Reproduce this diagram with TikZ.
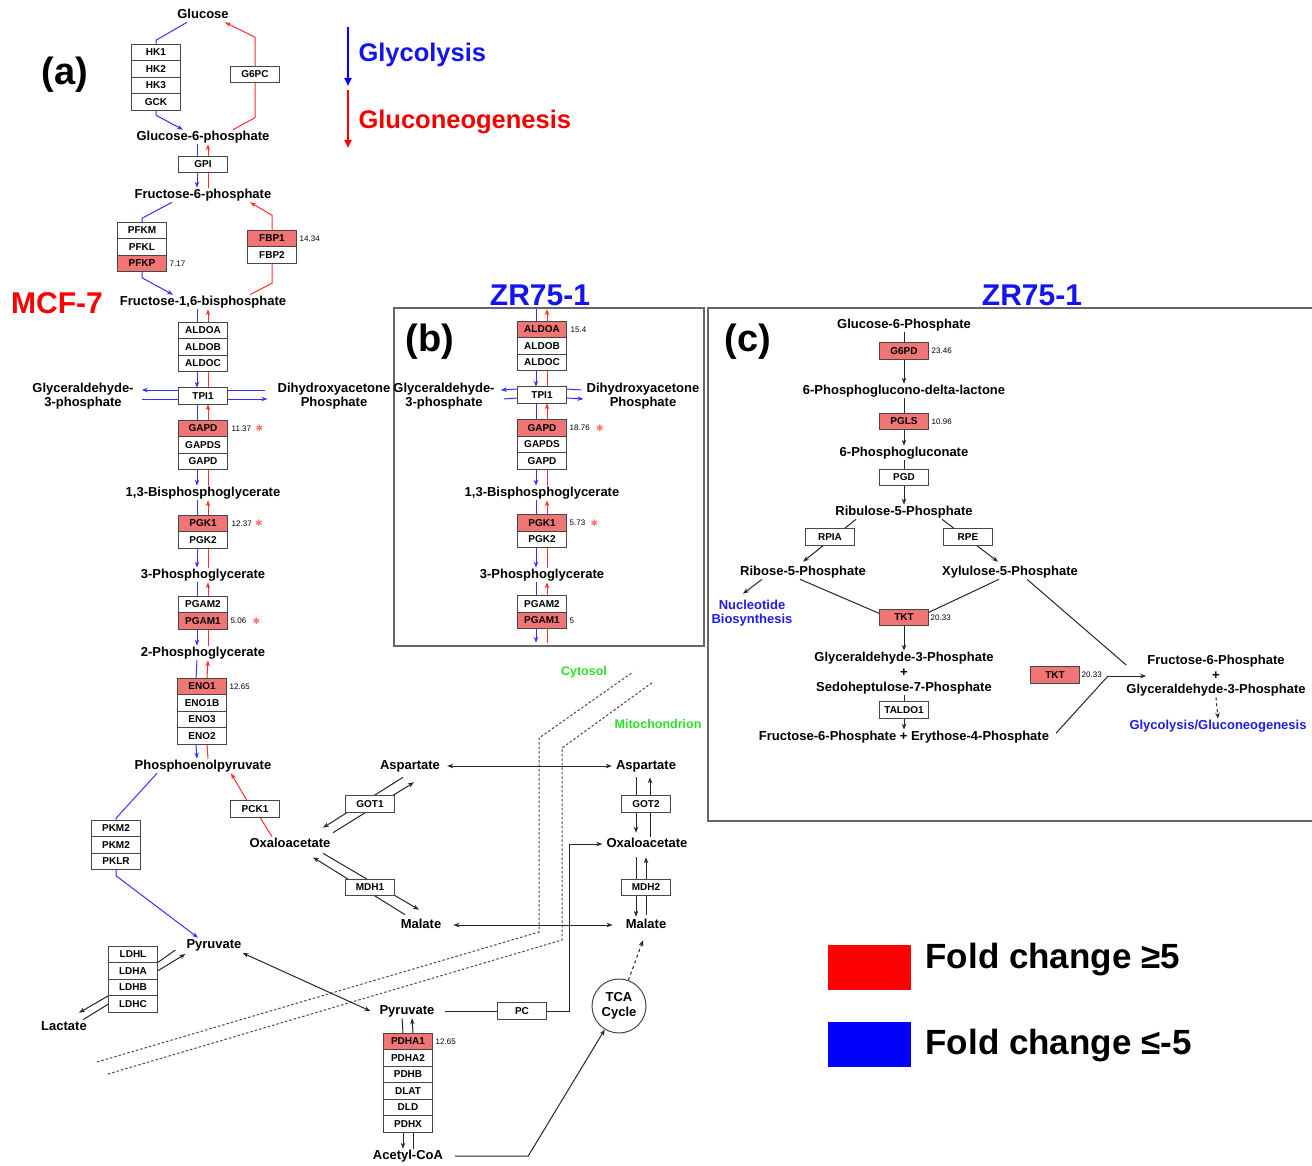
\documentclass[tikz,border=0pt]{standalone}
\usepackage{fontspec}
\setmainfont{Liberation Sans}
\newfontfamily\starfont{DejaVu Sans}
\usetikzlibrary{arrows.meta}
\usetikzlibrary{positioning}
\usetikzlibrary{backgrounds}

\definecolor{hitred}{RGB}{240,118,118}
\definecolor{glyblue}{RGB}{50,50,255}
\definecolor{gngred}{RGB}{255,45,45}
\definecolor{boxgray}{RGB}{70,70,70}
\definecolor{cmpgreen}{RGB}{40,225,40}
\definecolor{ptblue}{RGB}{30,30,230}
\definecolor{zrblue}{RGB}{20,20,240}

\tikzset{
  gene/.style={draw=boxgray, line width=1pt, fill=white, minimum width=49pt,
    minimum height=16.5pt, inner sep=0pt, outer sep=0pt,
    font=\fontsize{10}{10}\selectfont\bfseries},
  hit/.style={gene, fill=hitred},
  met/.style={inner sep=1pt, text height=9.5pt, text depth=2.7pt,
    font=\fontsize{13}{14}\selectfont\bfseries},
  met2/.style={inner sep=1pt, align=center, font=\fontsize{13}{14}\selectfont\bfseries},
  fc/.style={inner sep=0pt, font=\fontsize{8}{8}\selectfont},
  sig/.style={inner sep=0pt, text=red!55, font=\starfont\fontsize{9}{9}\selectfont},
  gly/.style={glyblue, line width=1pt},
  gng/.style={gngred, line width=1pt},
  rxn/.style={black!85, line width=1pt},
  membrane/.style={black!70, line width=1pt, dash pattern=on 2.5pt off 2pt},
  panel/.style={draw=black!60, line width=1.2pt},
  compart/.style={text=cmpgreen, font=\fontsize{12.5}{13}\selectfont\bfseries},
  tagfont/.style={font=\fontsize{38}{38}\selectfont\bfseries},
  cellline/.style={font=\fontsize{30}{30}\selectfont\bfseries},
  keybox/.style={minimum width=83pt, minimum height=45pt, inner sep=0pt},
  keytext/.style={anchor=west, font=\fontsize{35}{35}\selectfont\bfseries},
  pathlbl/.style={anchor=west, font=\fontsize{25.5}{26}\selectfont\bfseries},
}

\begin{document}
\begin{tikzpicture}[x=1pt,y=-1pt,>={Stealth[length=6pt,width=4.5pt]}]
\useasboundingbox (0,0) rectangle (1312,1166);

% ---------- panel labels
\node[tagfont] (taga) at (65,75) {(a)};
\node[tagfont] (tagb) at (430,342) {(b)};
\node[tagfont] (tagc) at (748,342) {(c)};
\node[cellline, text=red] (mcf) at (57,303) {MCF-7};
\node[cellline, text=zrblue] (zrb) at (540,295) {ZR75-1};
\node[cellline, text=zrblue] (zrc) at (1032,295) {ZR75-1};

% ---------- direction key
\coordinate (glyS) at (348,27);
\coordinate (glyE) at (348,86);
\coordinate (gngS) at (348,90);
\coordinate (gngE) at (348,148);
\node[pathlbl, text=zrblue] (glylbl) at (355,55) {Glycolysis};
\node[pathlbl, text=red!95!black] (gnglbl) at (355,122) {Gluconeogenesis};
\draw[blue, line width=2pt, -{Triangle[length=8pt,width=7pt]}] (glyS) -- (glyE);
\draw[red, line width=2pt, -{Triangle[length=8pt,width=7pt]}] (gngS) -- (gngE);

% ---------- (a) glycolysis, MCF-7
\node[met] (glc) at (203,15) {Glucose};
\node[gene] (hk1) at (156,52.5) {HK1};
\node[gene, below=0pt of hk1] (hk2) {HK2};
\node[gene, below=0pt of hk2] (hk3) {HK3};
\node[gene, below=0pt of hk3] (gck) {GCK};
\node[gene] (g6pc) at (255,74.5) {G6PC};
\node[met] (g6p) at (203,137) {Glucose-6-phosphate};
\node[gene] (gpi) at (203,164.5) {GPI};
\node[met] (f6p) at (203,195) {Fructose-6-phosphate};
\node[gene] (pfkm) at (142,230.5) {PFKM};
\node[gene, below=0pt of pfkm] (pfkl) {PFKL};
\node[hit, below=0pt of pfkl] (pfkp) {PFKP};
\node[fc, right=3pt of pfkp] (pfkpfc) {7.17};
\node[hit] (fbp1) at (272,238.5) {FBP1};
\node[gene, below=0pt of fbp1] (fbp2) {FBP2};
\node[fc, right=3pt of fbp1] (fbp1fc) {14.34};
\node[met] (fbp) at (203,302) {Fructose-1,6-bisphosphate};
\node[gene] (aldoa) at (203,330.5) {ALDOA};
\node[gene, below=0pt of aldoa] (aldob) {ALDOB};
\node[gene, below=0pt of aldob] (aldoc) {ALDOC};
\node[gene] (tpi) at (203,396) {TPI1};
\node[met2] (gap) at (83,396) {Glyceraldehyde-\\3-phosphate};
\node[met2] (dhap) at (334,396) {Dihydroxyacetone\\Phosphate};
\node[hit] (gapd) at (203,428.5) {GAPD};
\node[gene, below=0pt of gapd] (gapds) {GAPDS};
\node[gene, below=0pt of gapds] (gapdb) {GAPD};
\node[fc, right=4pt of gapd] (gapdfc) {11.37};
\node[sig, right=4pt of gapdfc] (gapdsig) {✱};
\node[met] (bpg) at (203,493) {1,3-Bisphosphoglycerate};
\node[hit] (pgk1) at (203,523.5) {PGK1};
\node[gene, below=0pt of pgk1] (pgk2) {PGK2};
\node[fc, right=4pt of pgk1] (pgk1fc) {12.37};
\node[sig, right=3pt of pgk1fc] (pgk1sig) {✱};
\node[met] (pg3) at (203,575) {3-Phosphoglycerate};
\node[gene] (pgam2) at (203,604.5) {PGAM2};
\node[hit, below=0pt of pgam2] (pgam1) {PGAM1};
\node[fc, right=3pt of pgam1] (pgam1fc) {5.06};
\node[sig, right=6pt of pgam1fc] (pgam1sig) {✱};
\node[met] (pg2) at (203,653) {2-Phosphoglycerate};
\node[hit] (eno1) at (202,686.5) {ENO1};
\node[gene, below=0pt of eno1] (eno1b) {ENO1B};
\node[gene, below=0pt of eno1b] (eno3) {ENO3};
\node[gene, below=0pt of eno3] (eno2) {ENO2};
\node[fc, right=3pt of eno1] (eno1fc) {12.65};
\node[met] (pep) at (203,766) {Phosphoenolpyruvate};
\node[gene] (pkm2a) at (116,828.5) {PKM2};
\node[gene, below=0pt of pkm2a] (pkm2b) {PKM2};
\node[gene, below=0pt of pkm2b] (pklr) {PKLR};
\node[gene] (pck1) at (255,809) {PCK1};
\node[met] (oaac) at (290,844) {Oxaloacetate};
\node[met] (pyrc) at (214,945) {Pyruvate};
\node[gene] (ldhl) at (133,954.5) {LDHL};
\node[gene, below=0pt of ldhl] (ldha) {LDHA};
\node[gene, below=0pt of ldha] (ldhb) {LDHB};
\node[gene, below=0pt of ldhb] (ldhc) {LDHC};
\node[met] (lac) at (64,1027) {Lactate};

% ---------- (a) shuttle and mitochondrion
\node[met] (aspc) at (410,766) {Aspartate};
\node[met] (aspm) at (646,766) {Aspartate};
\node[gene] (got1) at (370,804) {GOT1};
\node[gene] (got2) at (646,804) {GOT2};
\node[met] (oaam) at (647,844) {Oxaloacetate};
\node[gene] (mdh1) at (370,887.5) {MDH1};
\node[gene] (mdh2) at (646,887.5) {MDH2};
\node[met] (malc) at (421,925) {Malate};
\node[met] (malm) at (646,925) {Malate};
\node[met] (pyrm) at (407,1011) {Pyruvate};
\node[gene] (pc) at (522,1011) {PC};
\node[hit] (pdha1) at (408,1041.5) {PDHA1};
\node[gene, below=0pt of pdha1] (pdha2) {PDHA2};
\node[gene, below=0pt of pdha2] (pdhb) {PDHB};
\node[gene, below=0pt of pdhb] (dlat) {DLAT};
\node[gene, below=0pt of dlat] (dld) {DLD};
\node[gene, below=0pt of dld] (pdhx) {PDHX};
\node[fc, right=3pt of pdha1] (pdha1fc) {12.65};
\node[met] (accoa) at (408,1156) {Acetyl-CoA};
\node[draw=boxgray, line width=1pt, circle, fill=white, minimum size=54pt,
  inner sep=0pt, align=center, font=\fontsize{13}{15}\selectfont\bfseries] (tca) at (619,1006) {TCA\\Cycle};
\node[compart] (cyto) at (584,672) {Cytosol};
\node[compart] (mito) at (658,724) {Mitochondrion};

% ---------- (b) ZR75-1 glycolysis
\draw[panel] (394,308) rectangle (704,646);
\node[inner sep=0pt, minimum size=0pt] (btop) at (542,309) {};
\node[inner sep=0pt, minimum size=0pt] (bbot) at (542,643) {};
\node[hit] (baldoa) at (542,329.5) {ALDOA};
\node[gene, below=0pt of baldoa] (baldob) {ALDOB};
\node[gene, below=0pt of baldob] (baldoc) {ALDOC};
\node[fc, right=4pt of baldoa] (baldoafc) {15.4};
\node[gene] (btpi) at (542,395) {TPI1};
\node[met2] (bgap) at (444,396) {Glyceraldehyde-\\3-phosphate};
\node[met2] (bdhap) at (643,396) {Dihydroxyacetone\\Phosphate};
\node[hit] (bgapd) at (542,428) {GAPD};
\node[gene, below=0pt of bgapd] (bgapds) {GAPDS};
\node[gene, below=0pt of bgapds] (bgapdb) {GAPD};
\node[fc, right=3pt of bgapd] (bgapdfc) {18.76};
\node[sig, right=6pt of bgapdfc] (bgapdsig) {✱};
\node[met] (bbpg) at (542,493) {1,3-Bisphosphoglycerate};
\node[hit] (bpgk1) at (542,523) {PGK1};
\node[gene, below=0pt of bpgk1] (bpgk2) {PGK2};
\node[fc, right=3pt of bpgk1] (bpgk1fc) {5.73};
\node[sig, right=5pt of bpgk1fc] (bpgk1sig) {✱};
\node[met] (bpg3) at (542,575) {3-Phosphoglycerate};
\node[gene] (bpgam2) at (542,604) {PGAM2};
\node[hit, below=0pt of bpgam2] (bpgam1) {PGAM1};
\node[fc, right=3pt of bpgam1] (bpgam1fc) {5};

% ---------- (c) ZR75-1 pentose phosphate
\draw[panel] (708,308) rectangle (1320,821);
\node[met] (cg6p) at (904,325) {Glucose-6-Phosphate};
\node[hit] (g6pd) at (904,351) {G6PD};
\node[fc, right=3pt of g6pd] (g6pdfc) {23.46};
\node[met] (cpgl) at (904,391) {6-Phosphoglucono-delta-lactone};
\node[hit] (pgls) at (904,421.5) {PGLS};
\node[fc, right=3pt of pgls] (pglsfc) {10.96};
\node[met] (cpgn) at (904,453) {6-Phosphogluconate};
\node[gene] (pgd) at (904,477.5) {PGD};
\node[met] (cru5p) at (904,512) {Ribulose-5-Phosphate};
\node[gene] (rpia) at (830,537) {RPIA};
\node[gene] (rpe) at (968,537) {RPE};
\node[met] (cr5p) at (803,572) {Ribose-5-Phosphate};
\node[met] (cx5p) at (1010,572) {Xylulose-5-Phosphate};
\node[met2, text=ptblue] (nuc) at (752,613) {Nucleotide\\Biosynthesis};
\node[hit] (tkt) at (904,617.5) {TKT};
\node[fc, right=2pt of tkt] (tktfc) {20.33};
\node[met] (cgap) at (904,658) {Glyceraldehyde-3-Phosphate};
\node[met] (cplus) at (904,673) {+};
\node[met] (cs7p) at (904,688) {Sedoheptulose-7-Phosphate};
\node[gene] (taldo) at (904,710) {TALDO1};
\node[met] (cfe) at (904,737) {Fructose-6-Phosphate + Erythose-4-Phosphate};
\node[hit] (tkt2) at (1055,675) {TKT};
\node[fc, right=2pt of tkt2] (tkt2fc) {20.33};
\coordinate (tktin) at (1108,676);
\node[met] (cf6p) at (1216,661) {Fructose-6-Phosphate};
\node[met] (cplus2) at (1216,676) {+};
\node[met] (cgap2) at (1216,690) {Glyceraldehyde-3-Phosphate};
\node[met, text=ptblue] (cglyc) at (1218,726) {Glycolysis/Gluconeogenesis};

% ---------- fold change key
\node[keybox, fill=red] (upkey) at (869.5,967.5) {};
\node[keybox, fill=blue] (downkey) at (869.5,1044.5) {};
\node[keytext] (uplbl) at (922,960) {Fold change ≥5};
\node[keytext] (downlbl) at (922,1046) {Fold change ≤-5};

% ---------- connectors
\begin{pgfonlayer}{background}
\fill[white] (0,0) rectangle (1312,1166);
% membranes
\draw[membrane] (97,1062) -- (539,932) -- (539,738) -- (633,672);
\draw[membrane] (108,1074) -- (562,940) -- (562,748) -- (653,682);

% hexokinase / G6PC
\draw[gly] ([xshift=-16pt]glc.south) -- ([yshift=4pt]hk1.north) -- (hk1.north);
\draw[gly,->] (gck.south) -- ([yshift=-5pt]gck.south) -- ([xshift=-20pt]g6p.north);
\draw[gng] ([xshift=30pt]g6p.north) -- ([yshift=-35pt]g6pc.south) -- (g6pc.south);
\draw[gng,->] (g6pc.north) -- ([yshift=29pt]g6pc.north) -- ([xshift=22pt]glc.south);
% PFK / FBP
\draw[gly] ([xshift=-31pt]f6p.south) -- ([yshift=4pt]pfkm.north) -- (pfkm.north);
\draw[gly,->] (pfkp.south) -- ([yshift=-6pt]pfkp.south) -- ([xshift=-30pt]fbp.north);
\draw[gng] ([xshift=47pt]fbp.north) -- ([yshift=-20pt]fbp2.south) -- (fbp2.south);
\draw[gng,->] (fbp1.north) -- ([yshift=15pt]fbp1.north) -- ([xshift=47pt]f6p.south);

% reversible steps: blue down on the left, red up on the right
\foreach \src/\enzA/\enzB/\dst in {g6p/gpi/gpi/f6p, fbp/aldoa/aldoc/tpi,
    tpi/gapd/gapdb/bpg, bpg/pgk1/pgk2/pg3, pg3/pgam2/pgam1/pg2, pg2/eno1/eno2/pep,
    btop/baldoa/baldoc/btpi, btpi/bgapd/bgapdb/bbpg, bbpg/bpgk1/bpgk2/bpg3,
    bpg3/bpgam2/bpgam1/bbot}{
  \draw[gly] ([xshift=-6pt]\src.south) -- ([xshift=-6pt]\enzA.north);
  \draw[gly,->] ([xshift=-6pt]\enzB.south) -- ([xshift=-6pt]\dst.north);
  \draw[gng] ([xshift=5pt]\dst.north) -- ([xshift=5pt]\enzB.south);
  \draw[gng,->] ([xshift=5pt]\enzA.north) -- ([xshift=5pt]\src.south);
}

% triose phosphate isomerase
\draw[gly,->] ([yshift=6pt]tpi.west) -- ([xshift=7pt,yshift=6pt]gap.east);
\draw[gly] ([xshift=7pt,yshift=-3pt]gap.east) -- ([yshift=-3pt]tpi.west);
\draw[gly] ([yshift=6pt]tpi.east) -- ([xshift=-11pt,yshift=6pt]dhap.west);
\draw[gly,->] ([yshift=-3pt]tpi.east) -- ([xshift=-9pt,yshift=-3pt]dhap.west);
\draw[gly,->] ([yshift=6pt]btpi.west) -- ([xshift=5pt,yshift=6pt]bgap.east);
\draw[gly] ([xshift=8pt,yshift=-3pt]bgap.east) -- ([yshift=-3pt]btpi.west);
\draw[gly] ([yshift=6pt]btpi.east) -- ([xshift=-4pt,yshift=6pt]bdhap.west);
\draw[gly,->] ([yshift=-3pt]btpi.east) -- ([xshift=-2pt,yshift=-3pt]bdhap.west);

% pyruvate kinase, PEPCK
\draw[gly] ([xshift=-46pt]pep.south) -- ([yshift=2pt]pkm2a.north) -- (pkm2a.north);
\draw[gly,->] (pklr.south) -- ([yshift=-6pt]pklr.south) -- ([xshift=-16pt]pyrc.north);
\draw[gng] ([xshift=-18pt]oaac.north) -- ([xshift=5pt]pck1.south);
\draw[gng,->] ([xshift=-8pt]pck1.north) -- ([xshift=28pt]pep.south);

% lactate dehydrogenase
\draw[rxn] (ldhl.south east) -- ([xshift=-10pt,yshift=-5pt]pyrc.west);
\draw[rxn,->] (ldha.east) -- ([yshift=-9pt]pyrc.west);
\draw[rxn,->] (ldhb.south west) -- ([xshift=15pt,yshift=7pt]lac.north);
\draw[rxn] ([xshift=19pt]lac.north) -- (ldhc.west);

% transport
\draw[rxn,<->] ([yshift=-8pt]pyrc.east) -- ([xshift=-8pt]pyrm.west);
\draw[rxn,<->] ([xshift=6pt]aspc.east) -- ([xshift=-3pt]aspm.west);
\draw[rxn,<->] ([xshift=11pt]malc.east) -- ([xshift=-12pt]malm.west);

% GOT1 / MDH1
\draw[rxn,->] ([xshift=-7pt,yshift=-4pt]aspc.south) -- ([xshift=33pt,yshift=9pt]oaac.north);
\draw[rxn,->] ([xshift=43pt,yshift=4pt]oaac.north) -- ([xshift=4pt,yshift=-9pt]aspc.south);
\draw[rxn,->] ([xshift=-16pt,yshift=3pt]malc.north) -- ([xshift=23pt,yshift=-6pt]oaac.south);
\draw[rxn,->] ([xshift=33pt,yshift=-2pt]oaac.south) -- ([xshift=-2pt,yshift=8pt]malc.north);

% GOT2 / MDH2
\draw[rxn,->] ([xshift=-10pt,yshift=-4pt]aspm.south) -- ([xshift=-11pt,yshift=4pt]oaam.north);
\draw[rxn,->] ([xshift=3pt]oaam.north) -- ([xshift=4pt,yshift=-4pt]aspm.south);
\draw[rxn,->] ([xshift=-11pt,yshift=-6pt]oaam.south) -- ([xshift=-10pt,yshift=1pt]malm.north);
\draw[rxn,->] ([yshift=3pt]malm.north) -- ([xshift=-1pt,yshift=-6pt]oaam.south);

% pyruvate carboxylase, PDH, TCA
\draw[rxn] ([xshift=9pt]pyrm.east) -- (pc.west);
\draw[rxn,->] (pc.east) -- ++(23,0) |- ([xshift=-3pt]oaam.west);
\draw[rxn] ([xshift=-5pt]pyrm.south) -- ([xshift=-5pt]pdha1.north);
\draw[rxn,->] ([xshift=5pt]pdha1.north) -- ([xshift=5pt]pyrm.south);
\draw[rxn,->] ([xshift=-5pt]pdhx.south) -- ([xshift=-5pt]accoa.north);
\draw[rxn] ([xshift=5pt]accoa.north) -- ([xshift=5pt]pdhx.south);
\draw[rxn,->] ([xshift=11pt]accoa.east) -- ++(73,0) -- (tca);
\draw[rxn,dashed,->] (tca.70) -- ([xshift=-3pt,yshift=-8pt]malm.south);

% pentose phosphate pathway
\draw[rxn,->] (cg6p.south) -- (cpgl.north);
\draw[rxn,->] (cpgl.south) -- (cpgn.north);
\draw[rxn,->] (cpgn.south) -- (cru5p.north);
\draw[rxn,->] ([xshift=-48pt]cru5p.south) -- ([yshift=3pt]cr5p.north);
\draw[rxn,->] ([xshift=38pt]cru5p.south) -- ([xshift=-12pt,yshift=3pt]cx5p.north);
\draw[rxn,->] ([xshift=-41pt]cr5p.south) -- ([xshift=-9pt,yshift=5pt]nuc.north);
\draw[rxn] ([xshift=-3pt]cr5p.south) -- ([yshift=4pt]tkt.west);
\draw[rxn] ([xshift=-11pt]cx5p.south) -- ([yshift=5pt]tkt.east);
\draw[rxn] ([xshift=17pt]cx5p.south) -- ([xshift=-20pt,yshift=-4pt]cf6p.west);
\draw[rxn,->] (tkt.south) -- (cgap.north);
\draw[rxn,->] (cs7p.south) -- (cfe.north);
\draw[rxn] ([xshift=6pt,yshift=4pt]cfe.east) -- (tktin);
\draw[rxn,->] (tktin) -- (cf6p.west |- tktin);
\draw[rxn,dashed,->] (cgap2.south) -- (cglyc.north);
\end{pgfonlayer}
\end{tikzpicture}
\end{document}
